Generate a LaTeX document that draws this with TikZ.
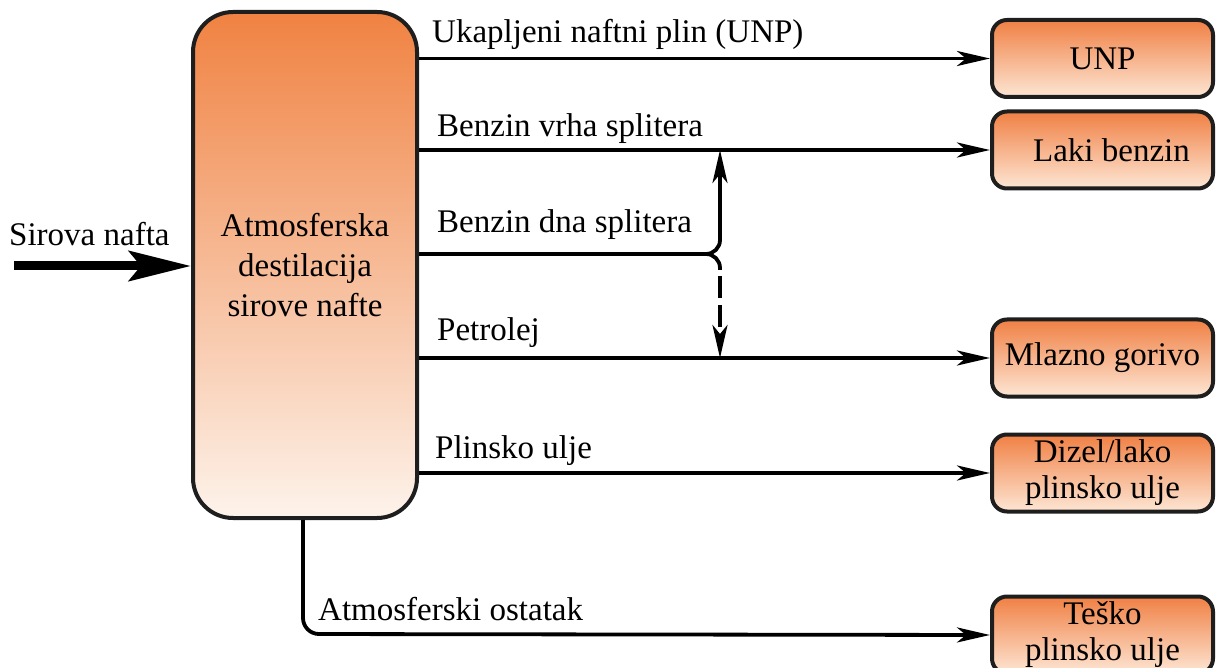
\documentclass[tikz,border=0pt]{standalone}
\usepackage{fontspec}
\setmainfont{Liberation Serif}
\usetikzlibrary{arrows.meta}
\definecolor{mtop}{RGB}{240,130,66}
\definecolor{mbot}{RGB}{253,243,235}
\definecolor{otop}{RGB}{240,128,68}
\definecolor{obot}{RGB}{253,230,212}
\definecolor{edge}{RGB}{30,30,30}
\tikzset{
  txt/.style={font=\fontsize{33}{40}\selectfont, inner sep=0pt},
  lbl/.style={txt, anchor=base west},
  mainbox/.style={draw=edge, line width=4pt, rounded corners=40pt, top color=mtop, bottom color=mbot,
    minimum width=224pt, minimum height=506pt, align=center, txt},
  outbox/.style={draw=edge, line width=4pt, rounded corners=15pt, top color=otop, bottom color=obot,
    minimum width=221pt, minimum height=77pt, align=center, txt, font=\fontsize{33}{36}\selectfont},
  conn/.style={line width=3.8pt, black},
  tip/.style={-{Stealth[length=33pt,width=15pt,inset=9pt]}},
}
\begin{document}
\begin{tikzpicture}[x=1pt,y=-1pt]
\useasboundingbox (0,0) rectangle (1216,668);

\node[mainbox] (main) at (305,265) {Atmosferska\\destilacija\\sirove nafte};

\node[outbox] (unp) at (1102.5,58.5) {UNP};
\node[outbox] (laki) at (1102.5,150) {\hspace*{18pt}Laki benzin};
\node[outbox] (mlazno) at (1102.5,358) {Mlazno gorivo};
\node[outbox] (dizel) at (1102.5,473) {Dizel/lako\\plinsko ulje};
\node[outbox] (tesko) at (1102.5,635) {Teško\\plinsko ulje};

% input
\coordinate (inp) at (14,266);
\draw[line width=9pt, -{Stealth[length=62pt,width=30pt,inset=12pt]}] (inp) -- (main.west |- inp);
\node[lbl] (sirova) at (9,246) {Sirova nafta};

% outputs
\draw[conn,tip] (main.east |- unp.west) -- (unp.west);
\draw[conn,tip] (main.east |- laki.west) -- (laki.west);
\draw[conn,tip] (main.east |- mlazno.west) -- (mlazno.west);
\draw[conn,tip] (main.east |- dizel.west) -- (dizel.west);

% splitter
\coordinate (split) at (720,254);
\coordinate (dn) at (720,270);
\draw[conn, rounded corners=14pt, tip] (main.east |- split) -- (split) -- (split |- laki.west);
\draw[conn, rounded corners=14pt] ([xshift=-14pt]split) -- (split) -- (dn);
\draw[conn, dash pattern=on 22pt off 7pt, dash phase=-6pt, tip] (dn) -- (split |- mlazno.west);

% residue
\coordinate (res) at (303,634);
\draw[conn, rounded corners=16pt, tip] (main.south -| res) -- (res) -- (tesko.west);

% labels
\node[lbl] (l1) at (432,43) {Ukapljeni naftni plin (UNP)};
\node[lbl] (l2) at (437,137) {Benzin vrha splitera};
\node[lbl] (l3) at (437,233) {Benzin dna splitera};
\node[lbl] (l4) at (437,341) {Petrolej};
\node[lbl] (l5) at (435,458) {Plinsko ulje};
\node[lbl] (l6) at (318,620) {Atmosferski ostatak};
\end{tikzpicture}
\end{document}
